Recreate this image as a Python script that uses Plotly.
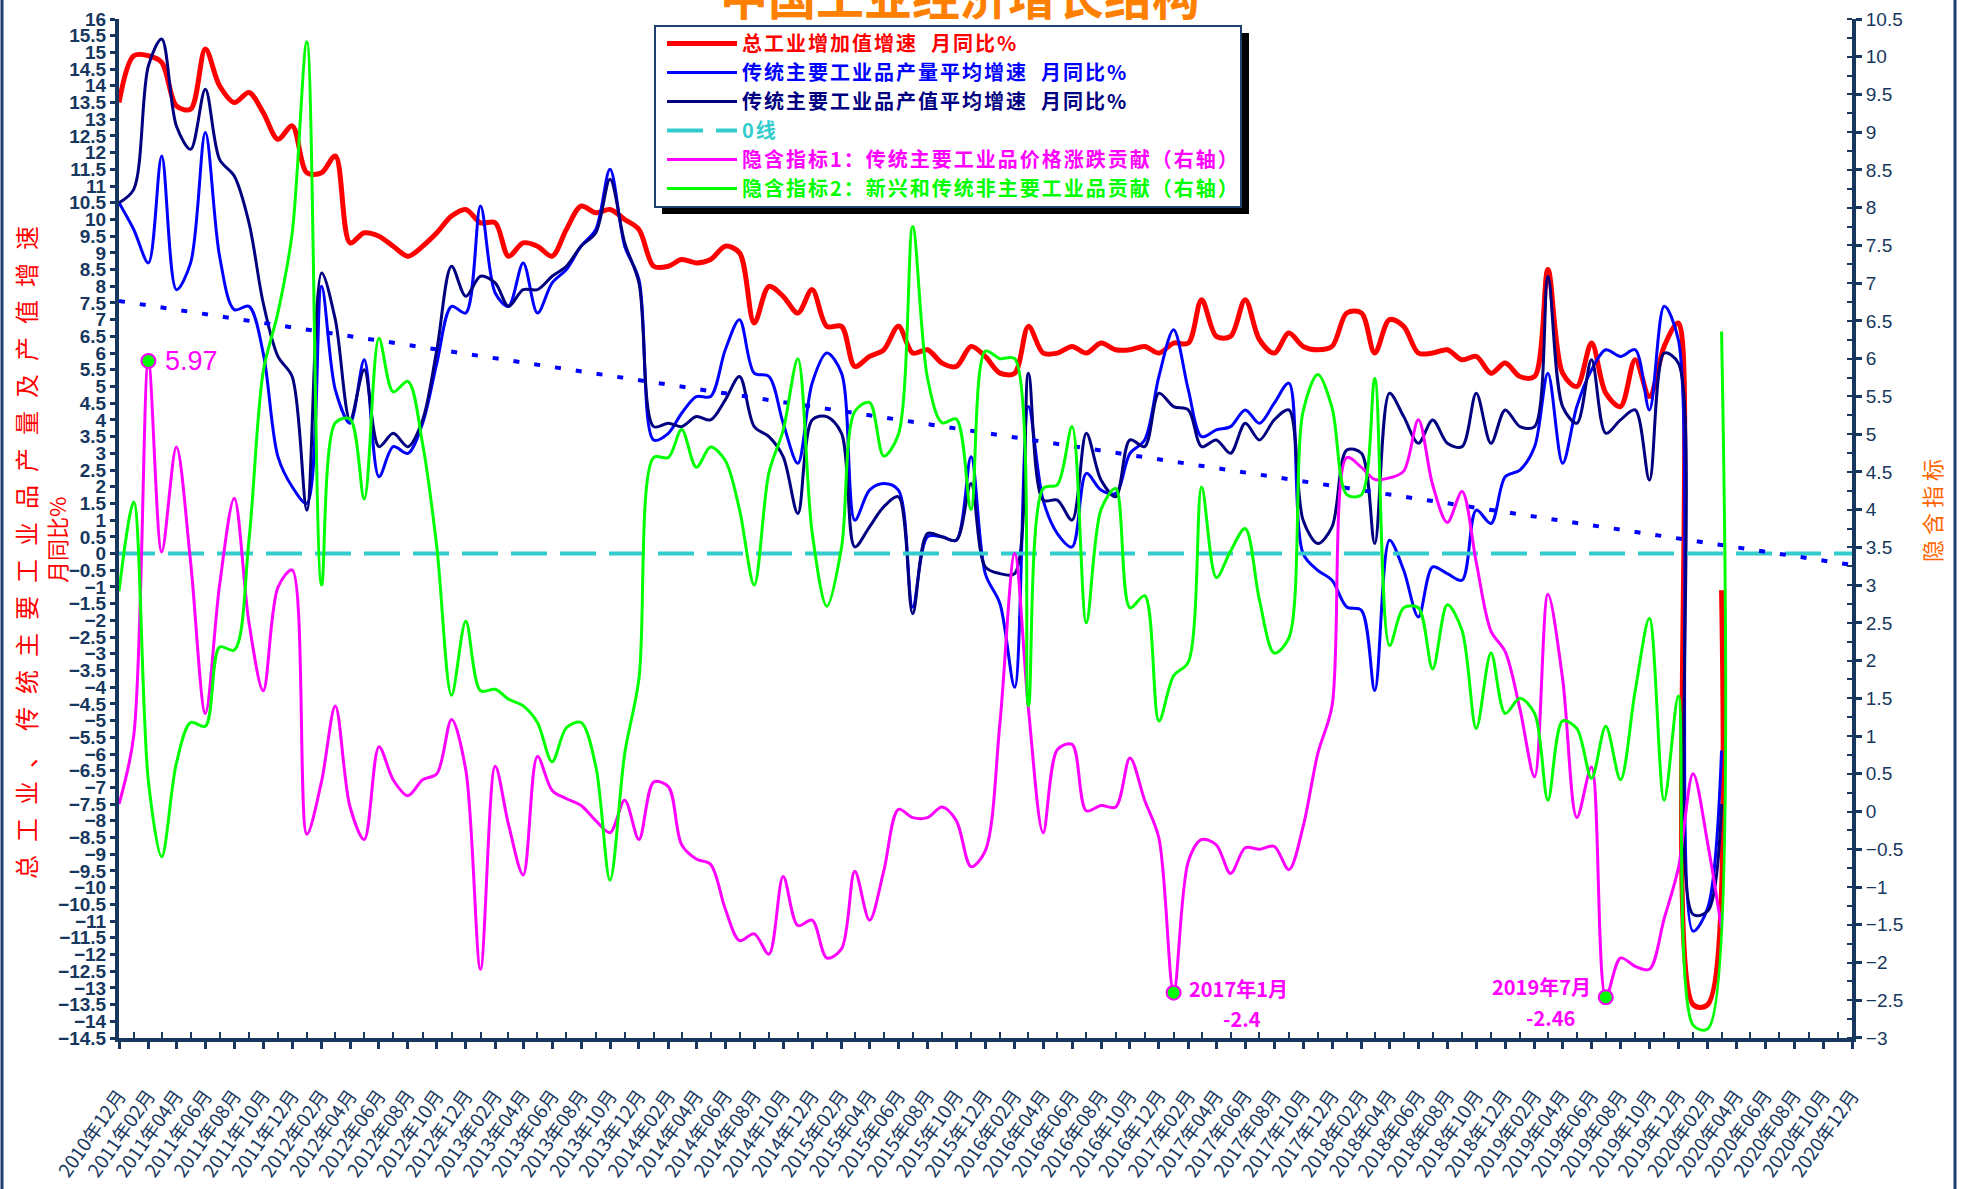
import pandas as pd
import plotly.graph_objects as go

# monthly x positions, 2010-12 .. 2020-03
months = pd.date_range("2010-12-01", periods=112, freq="MS")

# 总工业增加值增速 月同比%
total_ind = [13.5,
             14.9, 14.9, 14.7, 13.4, 13.3, 15.1, 14.0, 13.5, 13.8, 13.2, 12.4, 12.8,
             11.4, 11.4, 11.9, 9.3, 9.6, 9.5, 9.2, 8.9, 9.2, 9.6, 10.1, 10.3,
             9.9, 9.9, 8.9, 9.3, 9.2, 8.9, 9.7, 10.4, 10.2, 10.3, 10.0, 9.7,
             8.6, 8.6, 8.8, 8.7, 8.8, 9.2, 9.0, 6.9, 8.0, 7.7, 7.2, 7.9,
             6.8, 6.8, 5.6, 5.9, 6.1, 6.8, 6.0, 6.1, 5.7, 5.6, 6.2, 5.9,
             5.4, 5.4, 6.8, 6.0, 6.0, 6.2, 6.0, 6.3, 6.1, 6.1, 6.2, 6.0,
             6.3, 6.3, 7.6, 6.5, 6.5, 7.6, 6.4, 6.0, 6.6, 6.2, 6.1, 6.2,
             7.2, 7.2, 6.0, 7.0, 6.8, 6.0, 6.0, 6.1, 5.8, 5.9, 5.4, 5.7,
             5.3, 5.3, 8.5, 5.4, 5.0, 6.3, 4.8, 4.4, 5.8, 4.7, 6.2, 6.9,
             -13.5, -13.5, -1.1]

# 传统主要工业品产量平均增速 月同比%
output_avg = [10.5,
              9.7, 8.7, 11.9, 7.9, 8.7, 12.6, 8.9, 7.3, 7.4, 6.0, 2.9, 2.0,
              1.5, 8.0, 4.9, 3.9, 5.8, 2.3, 3.2, 3.0, 3.9, 5.7, 7.4, 7.2,
              10.4, 7.8, 7.4, 8.7, 7.2, 8.1, 8.5, 9.2, 9.7, 11.5, 9.2, 8.2,
              3.4, 3.6, 4.2, 4.7, 4.7, 6.1, 7.0, 5.4, 5.3, 3.9, 2.7, 5.1,
              6.0, 5.4, 1.0, 1.9, 2.1, 1.9, -1.6, 0.5, 0.5, 0.4, 2.9, -0.6,
              -1.5, -4.0, 4.4, 1.6, 0.6, 0.2, 2.4, 1.9, 1.8, 3.0, 3.4, 5.3,
              6.7, 4.9, 3.5, 3.7, 3.8, 4.3, 3.9, 4.5, 5.1, 0.0, -0.5, -0.8,
              -1.6, -1.7, -4.1, 0.4, -0.5, -1.9, -0.4, -0.6, -0.8, 1.3, 0.9, 2.3,
              2.5, 3.2, 5.4, 2.7, 4.4, 5.5, 6.1, 5.9, 6.1, 4.3, 7.4, 6.4,
              -11.3, -10.6, -5.9]

# 传统主要工业品产值平均增速 月同比%
value_avg = [10.5,
             10.9, 14.6, 15.4, 12.8, 12.1, 13.9, 11.8, 11.3, 9.9, 7.5, 5.9, 5.3,
             1.3, 8.4, 7.0, 4.0, 5.5, 3.2, 3.6, 3.2, 4.0, 6.1, 8.6, 7.7,
             8.3, 8.1, 7.4, 7.9, 7.9, 8.3, 8.6, 9.2, 9.6, 11.2, 9.3, 8.1,
             3.8, 3.9, 3.8, 4.1, 4.0, 4.6, 5.3, 3.8, 3.5, 2.9, 1.2, 4.0,
             4.1, 3.6, 0.2, 0.8, 1.4, 1.7, -1.8, 0.6, 0.5, 0.4, 2.1, -0.4,
             -0.6, -0.6, 5.4, 1.6, 1.6, 1.0, 3.6, 2.2, 1.7, 3.4, 3.2, 4.8,
             4.4, 4.3, 3.2, 3.4, 3.0, 3.9, 3.4, 4.0, 4.3, 1.0, 0.3, 0.8,
             3.1, 3.0, 0.3, 4.8, 4.1, 3.3, 4.0, 3.3, 3.2, 4.8, 3.3, 4.3,
             3.8, 3.8, 8.3, 4.4, 3.9, 5.8, 3.6, 4.0, 4.3, 2.2, 6.0, 5.7,
             -10.8, -10.7, -7.5]

# 隐含指标1：传统主要工业品价格涨跌贡献（右轴）
price_contrib = [0.1,
                 1.0, 5.97, 3.44, 4.83, 3.3, 1.3, 3.0, 4.15, 2.5, 1.6, 2.97, 3.2,
                 -0.3, 0.4, 1.4, 0.06, -0.37, 0.86, 0.42, 0.21, 0.42, 0.5, 1.22, 0.55,
                 -2.09, 0.6, -0.17, -0.84, 0.73, 0.28, 0.17, 0.08, -0.12, -0.28, 0.15, -0.37,
                 0.39, 0.33, -0.44, -0.63, -0.7, -1.29, -1.71, -1.62, -1.89, -0.86, -1.51, -1.44,
                 -1.94, -1.82, -0.79, -1.44, -0.79, 0.03, -0.08, -0.08, 0.06, -0.12, -0.73, -0.52,
                 1.18, 3.42, 1.36, -0.28, 0.82, 0.89, 0.01, 0.08, 0.06, 0.71, 0.15, -0.35,
                 -2.4, -0.66, -0.37, -0.44, -0.82, -0.48, -0.5, -0.46, -0.77, -0.2, 0.77, 1.4,
                 4.69, 4.56, 4.4, 4.42, 4.51, 5.19, 4.33, 3.83, 4.24, 3.3, 2.39, 2.12,
                 1.36, 0.46, 2.88, 1.76, -0.08, 0.59, -2.46, -1.94, -2.05, -2.09, -1.42, -0.75,
                 0.5, -0.43, -1.55]

# 隐含指标2：新兴和传统非主要工业品贡献（右轴）
other_contrib = [2.92,
                 4.1, 0.4, -0.6, 0.64, 1.18, 1.13, 2.18, 2.14, 3.6, 5.83, 6.61, 7.66,
                 10.2, 3.0, 5.15, 5.2, 4.14, 6.27, 5.56, 5.7, 4.87, 3.5, 1.54, 2.52,
                 1.6, 1.62, 1.49, 1.4, 1.18, 0.66, 1.11, 1.18, 0.6, -0.91, 0.77, 1.76,
                 4.69, 4.69, 5.06, 4.56, 4.83, 4.65, 4.0, 3.0, 4.49, 5.05, 6.0, 3.7,
                 2.72, 3.5, 5.3, 5.42, 4.71, 5.0, 7.75, 5.75, 5.15, 5.2, 4.0, 6.1,
                 6.0, 6.0, 1.4, 4.28, 4.33, 5.1, 2.5, 4.0, 4.28, 2.7, 2.86, 1.2,
                 1.8, 1.98, 4.3, 3.1, 3.45, 3.75, 2.8, 2.1, 2.3, 5.3, 5.79, 5.35,
                 4.2, 4.2, 5.74, 2.2, 2.7, 2.7, 1.89, 2.74, 2.4, 1.1, 2.1, 1.3,
                 1.5, 1.3, 0.15, 1.2, 1.1, 0.44, 1.13, 0.42, 1.6, 2.56, 0.15, 1.53,
                 -2.83, -2.88, 6.36]

# 0线 and linear trend of total industry
line_x = ["2010-12-01", "2020-12-01"]
zero_y = [0, 0]
trend_y = [7.56, -0.34]

# highlighted points of 隐含指标1
mark_dates = ["2011-02-01", "2017-01-01", "2019-07-01"]
mark_vals = [5.97, -2.4, -2.46]
mark_months = ["", "2017年1月", "2019年7月"]
mark_nums = ["5.97", "-2.4", "-2.46"]

AXIS = "#17375E"
CJK = "Noto Sans CJK SC"


def legend_name(text, color):
    return '<span style="color:%s;letter-spacing:2px">%s</span>' % (color, text)


def paper_x(px):
    # page pixel -> paper x (plot area 119..1852)
    return (px - 119) / 1733.0


def paper_y(py):
    # page pixel -> paper y (plot area 19..1038)
    return (1038 - py) / 1019.0


fig = go.Figure()

# left axis series
fig.add_trace(go.Scatter(x=months, y=total_ind, mode="lines",
                         name=legend_name("总工业增加值增速  月同比%", "#FF0000"),
                         line=dict(color="#FF0000", width=5, shape="spline", smoothing=0.9)))
fig.add_trace(go.Scatter(x=months, y=output_avg, mode="lines",
                         name=legend_name("传统主要工业品产量平均增速  月同比%", "#0000FF"),
                         line=dict(color="#0000FF", width=3, shape="spline", smoothing=0.9)))
fig.add_trace(go.Scatter(x=months, y=value_avg, mode="lines",
                         name=legend_name("传统主要工业品产值平均增速  月同比%", "#000080"),
                         line=dict(color="#000080", width=3, shape="spline", smoothing=0.9)))
fig.add_trace(go.Scatter(x=line_x, y=zero_y, mode="lines",
                         name=legend_name("0线", "#33CCCC"),
                         line=dict(color="#33CCCC", width=4, dash="36px,13px")))
fig.add_trace(go.Scatter(x=line_x, y=trend_y, mode="lines", showlegend=False,
                         line=dict(color="#0000FF", width=4, dash="6px,15px")))

# right axis series
fig.add_trace(go.Scatter(x=months, y=price_contrib, mode="lines", yaxis="y2",
                         name=legend_name("隐含指标1：传统主要工业品价格涨跌贡献（右轴）", "#FF00FF"),
                         line=dict(color="#FF00FF", width=3, shape="spline", smoothing=0.9)))
fig.add_trace(go.Scatter(x=months, y=other_contrib, mode="lines", yaxis="y2",
                         name=legend_name("隐含指标2：新兴和传统非主要工业品贡献（右轴）", "#00FF00"),
                         line=dict(color="#00FF00", width=3, shape="spline", smoothing=0.9)))
fig.add_trace(go.Scatter(x=mark_dates, y=mark_vals, mode="markers", yaxis="y2", showlegend=False,
                         marker=dict(color="#00FF00", size=14, line=dict(color="#FF00FF", width=2))))

# point labels
fig.add_annotation(x=mark_dates[0], y=mark_vals[0], yref="y2", text=mark_nums[0],
                   showarrow=False, xanchor="left", xshift=15,
                   font=dict(family="Liberation Sans", size=27, color="#FF00FF"))
label_font = dict(family=CJK, size=20, color="#FF00FF", weight="bold")
fig.add_annotation(x=mark_dates[1], y=mark_vals[1], yref="y2", text=mark_months[1],
                   showarrow=False, xshift=65, yshift=4, font=label_font)
fig.add_annotation(x=mark_dates[1], y=mark_vals[1], yref="y2", text=mark_nums[1],
                   showarrow=False, xshift=68, yshift=-26, font=label_font)
fig.add_annotation(x=mark_dates[2], y=mark_vals[2], yref="y2", text=mark_months[2],
                   showarrow=False, xshift=-64, yshift=11, font=label_font)
fig.add_annotation(x=mark_dates[2], y=mark_vals[2], yref="y2", text=mark_nums[2],
                   showarrow=False, xshift=-55, yshift=-20, font=label_font)

# title (mostly cut off at the top) and axis titles
fig.add_annotation(x=0.485, y=paper_y(31), xref="paper", yref="paper",
                   xanchor="center", yanchor="bottom",
                   text="中国工业经济增长结构", showarrow=False,
                   font=dict(family=CJK, size=48, color="#FF8000", weight="bold"))
fig.add_annotation(x=paper_x(25), y=paper_y(546), xref="paper", yref="paper",
                   xanchor="center", yanchor="middle", textangle=-90,
                   text='<span style="letter-spacing:13px">总工业、传统主要工业品产量及产值增速</span>',
                   showarrow=False, font=dict(family=CJK, size=24, color="#FF0000"))
fig.add_annotation(x=paper_x(56), y=paper_y(540), xref="paper", yref="paper",
                   xanchor="center", yanchor="middle", textangle=-90,
                   text="月同比%", showarrow=False,
                   font=dict(family=CJK, size=22, color="#FF0000"))
fig.add_annotation(x=paper_x(1931), y=paper_y(508), xref="paper", yref="paper",
                   xanchor="center", yanchor="middle", textangle=-90,
                   text='<span style="letter-spacing:5px">隐含指标</span>', showarrow=False,
                   font=dict(family=CJK, size=22, color="#FF6600"))

# legend box with drop shadow, and the outer frame
fig.add_shape(type="rect", xref="paper", yref="paper",
              x0=paper_x(662), x1=paper_x(1249), y0=paper_y(214), y1=paper_y(33),
              fillcolor="black", line=dict(width=0), layer="above")
fig.add_shape(type="rect", xref="paper", yref="paper",
              x0=paper_x(655), x1=paper_x(1241), y0=paper_y(207), y1=paper_y(26),
              fillcolor="white", line=dict(color="#1F3F6F", width=2), layer="above")
fig.add_shape(type="rect", xref="paper", yref="paper",
              x0=paper_x(2), x1=paper_x(1955), y0=-0.3, y1=1.1,
              line=dict(color="#1F3F6F", width=3), layer="below")

fig.update_layout(
    width=1966, height=1189,
    margin=dict(l=119, r=114, t=19, b=151, autoexpand=False),
    paper_bgcolor="white", plot_bgcolor="white",
    showlegend=True,
    legend=dict(x=paper_x(662), y=paper_y(24), xanchor="left", yanchor="top",
                bgcolor="rgba(0,0,0,0)", borderwidth=0,
                itemwidth=70, tracegroupgap=0,
                font=dict(family=CJK, size=20, weight="bold")),
    xaxis=dict(type="date", range=["2010-12-01", "2020-12-01"], automargin=False,
               tick0="2010-12-01", dtick="M2", tickformat="%Y年%m月", tickangle=-55,
               ticks="outside", ticklen=7, tickwidth=3, tickcolor=AXIS,
               ticklabelstandoff=28,
               minor=dict(ticks="inside", ticklen=6, tickwidth=2, tickcolor=AXIS,
                          tick0="2011-01-01", dtick="M2"),
               showline=True, linecolor=AXIS, linewidth=4, showgrid=False, zeroline=False,
               tickfont=dict(family=CJK, size=19, color=AXIS)),
    yaxis=dict(range=[-14.5001, 16.0001], dtick=0.5, tick0=0, automargin=False,
               ticks="outside", ticklen=5, tickwidth=3, tickcolor=AXIS,
               showline=True, linecolor=AXIS, linewidth=4, showgrid=False, zeroline=False,
               tickfont=dict(family="Liberation Sans", size=19, color=AXIS, weight="bold")),
    yaxis2=dict(range=[-3.0001, 10.5001], dtick=0.5, tick0=0, overlaying="y", side="right",
                automargin=False,
                ticks="outside", ticklen=6, tickwidth=3, tickcolor=AXIS,
                minor=dict(ticks="inside", ticklen=5, tickwidth=2, tickcolor=AXIS, dtick=0.25),
                showline=True, linecolor=AXIS, linewidth=4, showgrid=False, zeroline=False,
                tickfont=dict(family="Liberation Sans", size=19, color=AXIS)),
)

# the page should start at the very corner, like the original picture
fig.write_html("out.html", config={"displayModeBar": False},
               post_script="document.body.style.margin = '0';")
